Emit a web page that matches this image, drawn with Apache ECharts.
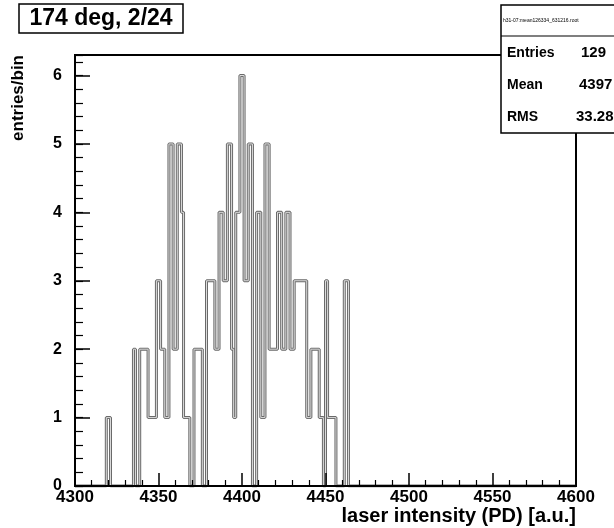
<!DOCTYPE html>
<html>
<head>
<meta charset="utf-8">
<script src="https://cdn.jsdelivr.net/npm/echarts@6/dist/echarts.min.js"></script>
<style>
  html, body { margin: 0; padding: 0; background: #fff; }
  #chart { width: 614px; height: 528px; }
</style>
</head>
<body>
<div id="chart"></div>
<script>
// histogram: counts hold from binEdges[i] to binEdges[i+1]
var binEdges = [4318.75, 4321.25, 4335, 4336.25, 4338.75, 4343.75, 4348.75, 4351.25, 4353.75,
    4356.25, 4358.75, 4361.25, 4363.75, 4365, 4368.75, 4371.25, 4376.25, 4378.75, 4383.75,
    4386.25, 4388.75, 4391.25, 4393.75, 4395, 4396.25, 4398.75, 4401.25, 4403.75, 4406.25,
    4408.75, 4411.25, 4413.75, 4416.25, 4421.25, 4423.75, 4426.25, 4428.75, 4431.25, 4438.75,
    4441.25, 4446.25, 4448.75, 4450, 4451.25, 4456.25, 4461.25, 4463.75];
var binCounts = [1, 0, 2, 0, 2, 1, 3, 2, 1,
    5, 2, 5, 4, 1, 0, 2, 0, 3, 2,
    4, 3, 5, 2, 1, 4, 6, 3, 5, 0,
    4, 1, 5, 2, 4, 2, 4, 2, 3, 1,
    2, 1, 0, 3, 1, 0, 3];

var xRange = [4300, 4600];
var yRange = [0, 6.3];
var xTickStep = 50;
var yTickStep = 1;

var titleText = '174 deg, 2/24';
var xTitle = 'laser intensity (PD) [a.u.]';
var yTitle = 'entries/bin';
var statsName = 'h31-07:mean126334_631216.root';
var statsLabels = ['Entries', 'Mean', 'RMS'];
var statsValues = ['129', '4397', '33.28'];

var FONT = '"Liberation Sans", Arial, sans-serif';

// step outline points
var outline = [[xRange[0], 0]];
for (var i = 0; i < binCounts.length; i++) {
    outline.push([binEdges[i], binCounts[i]]);
}
outline.push([binEdges[binEdges.length - 1], 0]);
outline.push([xRange[1], 0]);

var chart = echarts.init(document.getElementById('chart'));

var statsRows = [];
var rowY = [53, 85, 117];
var valX = [581, 579, 576];
for (var k = 0; k < statsLabels.length; k++) {
    statsRows.push({
        type: 'text', x: 507, y: rowY[k], z: 102,
        style: { text: statsLabels[k], font: 'bold 14px ' + FONT, fill: '#000', verticalAlign: 'middle' }
    });
    statsRows.push({
        type: 'text', x: valX[k], y: rowY[k], z: 102,
        style: { text: statsValues[k], font: 'bold 15px ' + FONT, fill: '#000', verticalAlign: 'middle' }
    });
}

var option = {
    animation: false,
    backgroundColor: '#fff',
    grid: {
        left: 75, right: 38, top: 55, bottom: 42,
        containLabel: false, outerBoundsMode: 'none',
        show: true, borderColor: '#000', borderWidth: 2, backgroundColor: 'transparent'
    },
    xAxis: {
        type: 'value', min: xRange[0], max: xRange[1], interval: xTickStep, z: 5,
        axisLine: { lineStyle: { color: '#000', width: 2 } },
        axisTick: { inside: true, length: 13, lineStyle: { color: '#000', width: 1.5 } },
        minorTick: { show: true, splitNumber: 5, length: 6, lineStyle: { color: '#000', width: 1.2 } },
        splitLine: { show: false },
        axisLabel: { color: '#000', fontFamily: FONT, fontWeight: 'bold', fontSize: 17, margin: 3,
            formatter: function (v) { return String(v); } }
    },
    yAxis: [{
        type: 'value', min: yRange[0], max: yRange[1], interval: yTickStep, z: 5,
        axisLine: { show: true, lineStyle: { color: '#000', width: 2 } },
        axisTick: { show: true, inside: true, length: 15, lineStyle: { color: '#000', width: 1.5 } },
        splitLine: { show: false },
        axisLabel: {
            color: '#000', fontFamily: FONT, fontWeight: 'bold', fontSize: 16, margin: 13,
            showMaxLabel: false,
            formatter: function (v) { return Math.abs(v - Math.round(v)) < 1e-6 ? String(Math.round(v)) : ''; }
        }
    }, {
        // minor ticks every 0.2
        type: 'value', position: 'left', min: yRange[0], max: yRange[1], interval: 0.2, z: 5,
        axisLine: { show: false },
        axisTick: { show: true, inside: true, length: 8, lineStyle: { color: '#000', width: 1.2 } },
        axisLabel: { show: false },
        splitLine: { show: false }
    }],
    series: [{
        type: 'line', step: 'end', data: outline, symbol: 'none', z: 2,
        lineStyle: { color: '#6a6a6a', width: 3 }
    }, {
        type: 'line', step: 'end', data: outline, symbol: 'none', z: 3,
        lineStyle: { color: '#dcdcdc', width: 1 }
    }],
    graphic: [
        {
            type: 'text', x: 576, y: 516, z: 100,
            style: { text: xTitle, font: 'bold 20px ' + FONT, fill: '#000', align: 'right', verticalAlign: 'middle' }
        },
        {
            type: 'text', x: 18, y: 55, rotation: Math.PI / 2, z: 100,
            style: { text: yTitle, font: 'bold 17px ' + FONT, fill: '#000', align: 'right', verticalAlign: 'middle' }
        },
        {
            type: 'rect', z: 100,
            shape: { x: 19, y: 4, width: 164, height: 29 },
            style: { fill: '#fff', stroke: '#000', lineWidth: 1.5 }
        },
        {
            type: 'text', x: 101, y: 19, z: 101,
            style: { text: titleText, font: 'bold 23px ' + FONT, fill: '#000', align: 'center', verticalAlign: 'middle' }
        },
        {
            type: 'rect', z: 100,
            shape: { x: 501, y: 5, width: 140, height: 128 },
            style: { fill: '#fff', stroke: '#000', lineWidth: 1.5 }
        },
        {
            type: 'line', z: 101,
            shape: { x1: 501, y1: 36, x2: 641, y2: 36 },
            style: { stroke: '#000', lineWidth: 1.2 }
        },
        {
            type: 'text', x: 503, y: 21, z: 101,
            style: { text: statsName, font: '5px ' + FONT, fill: '#000', verticalAlign: 'middle' }
        }
    ].concat(statsRows)
};

chart.setOption(option);
</script>
</body>
</html>
